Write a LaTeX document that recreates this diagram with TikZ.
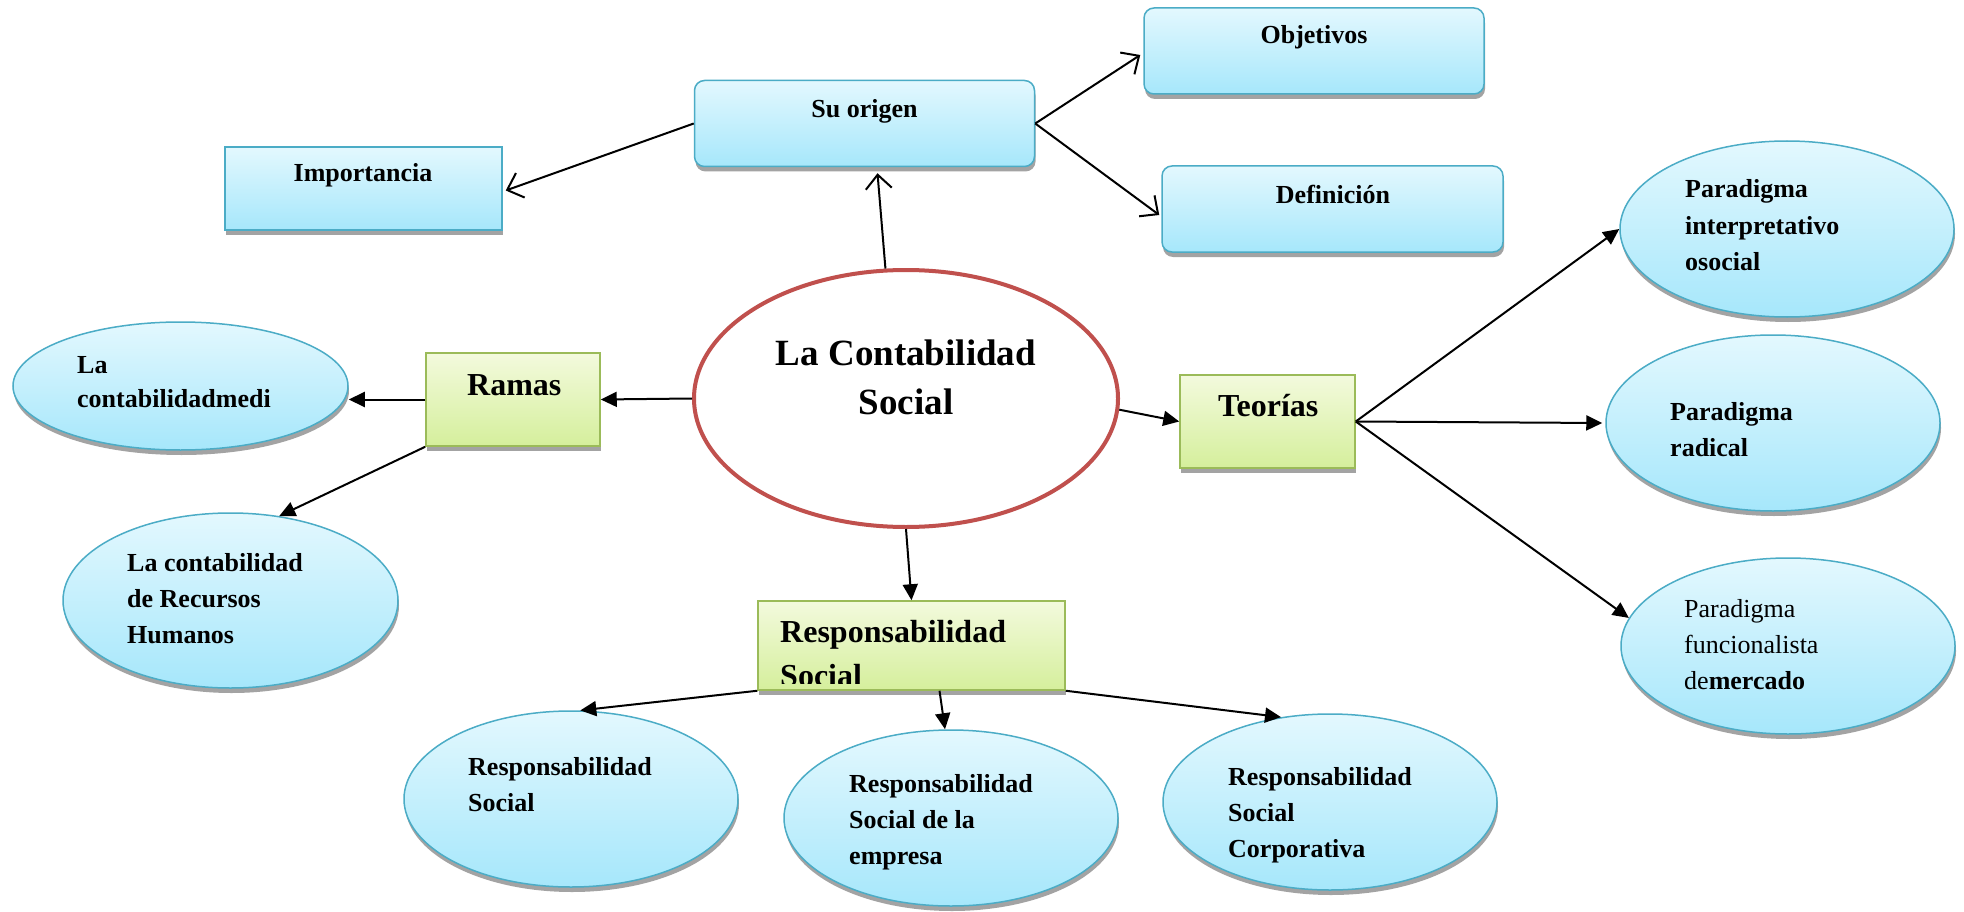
\documentclass[tikz,border=0pt]{standalone}
\usepackage{fontspec}
\setmainfont{Liberation Serif}
\usetikzlibrary{shapes.geometric,shadows,arrows.meta,calc}
\definecolor{bborder}{HTML}{4BACC6}
\definecolor{btop}{HTML}{E3F8FE}
\definecolor{bbot}{HTML}{A6E7FB}
\definecolor{gborder}{HTML}{9BBB59}
\definecolor{gtop}{HTML}{F3FADD}
\definecolor{gbot}{HTML}{D5EF9C}
\definecolor{cred}{HTML}{C0504D}
\newcommand\mlines[1]{\begin{tabular}[t]{@{}l@{}}#1\end{tabular}}
\newcommand\clines[1]{\begin{tabular}[t]{@{}c@{}}#1\end{tabular}}
\tikzset{
  shad/.style={drop shadow={shadow xshift=1pt,shadow yshift=-5pt,fill=black!45,opacity=0.8}},
  bluebox/.style={rectangle,rounded corners=10pt,draw=bborder,line width=1.5pt,top color=btop,bottom color=bbot,shad,inner sep=0pt},
  sqbox/.style={rectangle,draw=bborder,line width=1.5pt,top color=btop,bottom color=bbot,shad,inner sep=0pt},
  greenbox/.style={rectangle,draw=gborder,line width=1.5pt,top color=gtop,bottom color=gbot,shad,inner sep=0pt},
  blueell/.style={ellipse,draw=bborder,line width=1.5pt,top color=btop,bottom color=bbot,shad,inner sep=0pt,minimum width=334pt,minimum height=176pt},
  mainell/.style={ellipse,draw=cred,line width=4pt,fill=white,inner sep=0pt,minimum width=424pt,minimum height=257pt},
  txt/.style={inner sep=0pt,anchor=base west,font=\fontsize{26}{36}\selectfont\bfseries},
  ctxt/.style={inner sep=0pt,anchor=base,font=\fontsize{26}{36}\selectfont\bfseries},
  btxt/.style={inner sep=0pt,anchor=base west,font=\fontsize{32}{44}\selectfont\bfseries},
  openarr/.style={-{Straight Barb[length=14pt,width=26pt,line width=2pt]},line width=2pt},
  fillarr/.style={-{Triangle[length=16pt,width=15pt]},line width=2pt}
}
\begin{document}
\begin{tikzpicture}[x=1pt,y=-1pt]
\fill[white] (0,0) rectangle (1964,912);
\useasboundingbox (0,0) rectangle (1964,912);

% central
\node[mainell] (cs) at (906,398.5) {};
\node[inner sep=0pt,anchor=base,font=\fontsize{37}{49}\selectfont\bfseries] (cst) at (906,365) {\clines{La Contabilidad\\Social}};

% top boxes
\node[bluebox,minimum width=340pt,minimum height=86pt] (so) at (864.5,123.5) {};
\node[ctxt] (sot) at (864.5,118) {Su origen};
\node[bluebox,minimum width=340pt,minimum height=86pt] (obj) at (1314,51) {};
\node[ctxt] (objt) at (1314,44) {Objetivos};
\node[bluebox,minimum width=341pt,minimum height=86pt] (def) at (1332.5,209) {};
\node[ctxt] (deft) at (1333,204) {Definición};
\node[sqbox,minimum width=277pt,minimum height=83pt] (imp) at (363.5,188.5) {};
\node[ctxt] (impt) at (363,182) {Importancia};

% green boxes
\node[greenbox,minimum width=174pt,minimum height=93pt] (ramas) at (513,399.5) {};
\node[btxt] (ramast) at (467,395) {Ramas};
\node[greenbox,minimum width=175pt,minimum height=93pt] (teo) at (1267.5,421.5) {};
\node[btxt] (teot) at (1218,416) {Teorías};
\node[greenbox,minimum width=307pt,minimum height=89pt] (rs) at (911.5,645.5) {};
\begin{scope}
\clip (758,601) rectangle (1065,683);
\node[btxt] (rst) at (780,642) {\mlines{Responsabilidad\\Social}};
\end{scope}

% left ellipses
\node[blueell,minimum width=335pt,minimum height=128pt] (e1) at (180.5,386) {};
\node[txt,font=\fontsize{26}{34}\selectfont\bfseries] (e1t) at (77,373) {\mlines{La\\contabilidadmedi}};
\node[blueell,minimum width=335pt,minimum height=175pt] (e2) at (230.5,600.5) {};
\node[txt] (e2t) at (127,571) {\mlines{La contabilidad\\de Recursos\\Humanos}};

% right ellipses
\node[blueell] (p1) at (1787,229) {};
\node[txt] (p1t) at (1685,198) {\mlines{Paradigma\\interpretativo\\osocial}};
\node[blueell] (p2) at (1773,423) {};
\node[txt] (p2t) at (1670,420) {\mlines{Paradigma\\radical}};
\node[blueell] (p3) at (1788,646) {};
\node[txt,font=\fontsize{26}{36}\selectfont] (p3t) at (1684,617) {\mlines{Paradigma\\funcionalista\\de\textbf{mercado}}};

% bottom ellipses
\node[blueell] (rs1) at (571,799) {};
\node[txt] (rs1t) at (468,775) {\mlines{Responsabilidad\\Social}};
\node[blueell] (rs2) at (951,818) {};
\node[txt] (rs2t) at (849,792) {\mlines{Responsabilidad\\Social de la\\empresa}};
\node[blueell] (rs3) at (1330,802) {};
\node[txt] (rs3t) at (1228,785) {\mlines{Responsabilidad\\Social\\Corporativa}};

% connectors
\draw[openarr] (cs.99) -- ($(so.south)+(13,6)$);
\draw[openarr] (so.west) -- ($(imp.east)+(3,2)$);
\draw[openarr] (so.east) -- ($(obj.west)+(-3,4)$);
\draw[openarr] (so.east) -- ($(def.west)+(-2,6)$);
\draw[fillarr] (cs.west) -- (ramas.east);
\draw[fillarr] (ramas.west) -- (ramas.west -| e1.east);
\draw[fillarr] (ramas.south west) -- (e2.60);
\draw[fillarr] (cs.-3) -- (teo.west);
\draw[fillarr] (teo.east) -- (p1.west);
\draw[fillarr] (teo.east) -- ($(p2.west)+(-3,0)$);
\draw[fillarr] (teo.east) -- (p3.170);
\draw[fillarr] (cs.south) -- (rs.north);
\draw[fillarr] (rs.south west) -- (rs1.84);
\draw[fillarr] ($(rs.south)+(28,0)$) -- ($(rs2.north)+(-6,0)$);
\draw[fillarr] (rs.south east) -- (rs3.120);
\end{tikzpicture}
\end{document}
